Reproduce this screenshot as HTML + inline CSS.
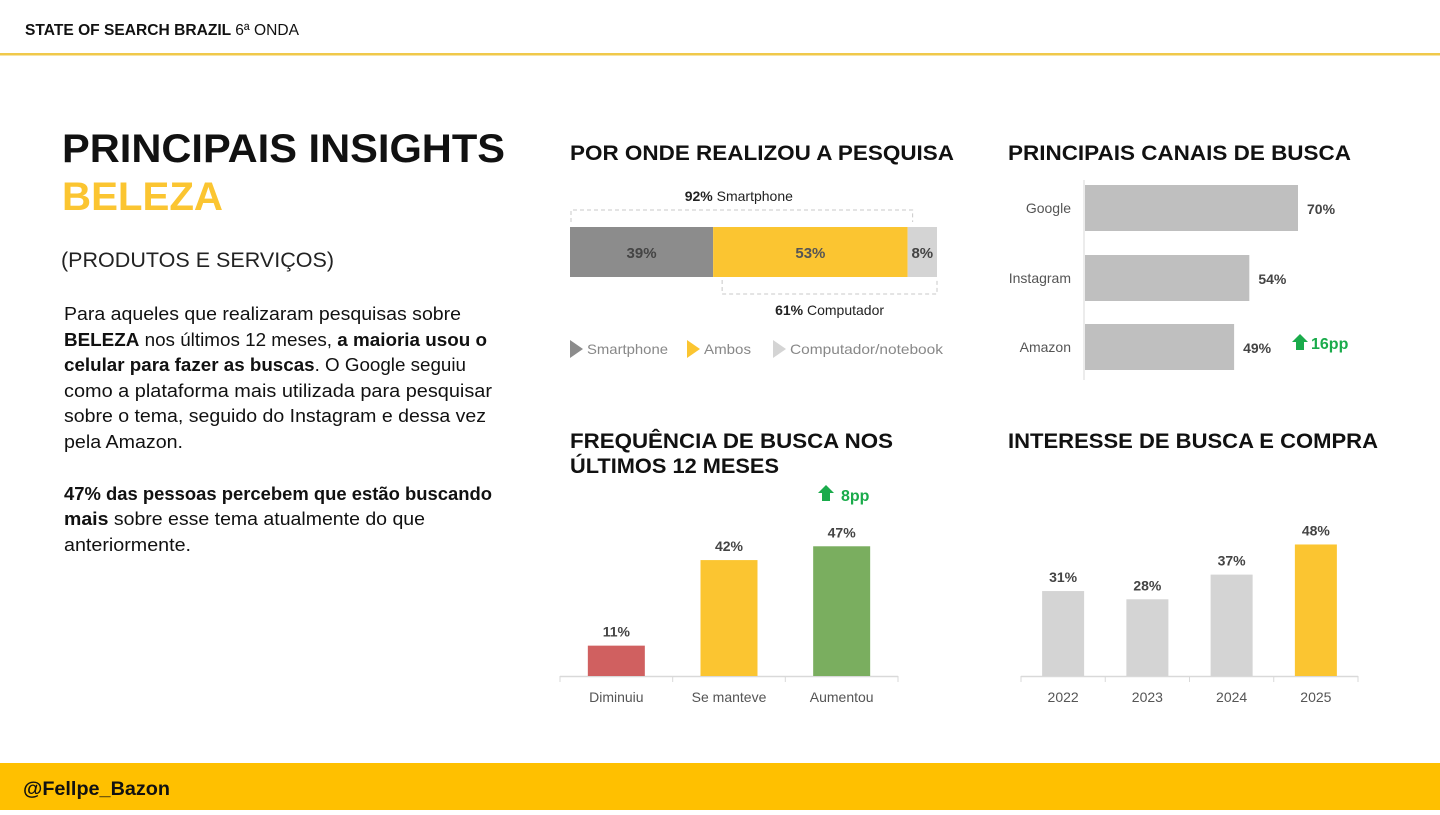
<!DOCTYPE html>
<html><head><meta charset="utf-8"><style>
html,body{margin:0;padding:0;background:#fff;}
body{width:1440px;height:810px;overflow:hidden;position:relative;font-family:"Liberation Sans",sans-serif;}
svg text{font-family:"Liberation Sans",sans-serif;}
</style></head><body>
<svg id="page" width="1440" height="810" viewBox="0 0 1440 810" xmlns="http://www.w3.org/2000/svg">
  <g>
    <text x="25" y="35" font-size="16" font-weight="bold" fill="#111" textLength="274" lengthAdjust="spacingAndGlyphs">STATE OF SEARCH BRAZIL <tspan font-weight="normal">6ª ONDA</tspan></text>
    <rect x="0" y="53" width="1440" height="2.5" fill="#f0c94a"/>
  </g>
  <g>
    <rect x="0" y="763" width="1440" height="47" fill="#ffc000"/>
    <text x="23" y="795" font-size="19" font-weight="bold" fill="#111" textLength="147" lengthAdjust="spacingAndGlyphs">@Fellpe_Bazon</text>
  </g>
  <g>
    <text x="62" y="162" font-size="40" font-weight="bold" fill="#111" textLength="443" lengthAdjust="spacingAndGlyphs">PRINCIPAIS INSIGHTS</text>
    <text x="62" y="210" font-size="40" font-weight="bold" fill="#fbc531" textLength="161" lengthAdjust="spacingAndGlyphs">BELEZA</text>
    <text x="61" y="267" font-size="21" fill="#222" textLength="273" lengthAdjust="spacingAndGlyphs">(PRODUTOS E SERVIÇOS)</text>
  </g>
  <g font-size="18" fill="#111">
    <text x="64" y="320" textLength="397" lengthAdjust="spacingAndGlyphs">Para aqueles que realizaram pesquisas sobre</text>
    <text x="64" y="346" textLength="423" lengthAdjust="spacingAndGlyphs"><tspan font-weight="bold">BELEZA</tspan> nos últimos 12 meses, <tspan font-weight="bold">a maioria usou o</tspan></text>
    <text x="64" y="371" textLength="402" lengthAdjust="spacingAndGlyphs"><tspan font-weight="bold">celular para fazer as buscas</tspan>. O Google seguiu</text>
    <text x="64" y="397" textLength="428" lengthAdjust="spacingAndGlyphs">como a plataforma mais utilizada para pesquisar</text>
    <text x="64" y="422" textLength="422" lengthAdjust="spacingAndGlyphs">sobre o tema, seguido do Instagram e dessa vez</text>
    <text x="64" y="448" textLength="119" lengthAdjust="spacingAndGlyphs">pela Amazon.</text>
    <text x="64" y="500" textLength="428" lengthAdjust="spacingAndGlyphs" font-weight="bold">47% das pessoas percebem que estão buscando</text>
    <text x="64" y="525" textLength="361" lengthAdjust="spacingAndGlyphs"><tspan font-weight="bold">mais</tspan> sobre esse tema atualmente do que</text>
    <text x="64" y="551" textLength="127" lengthAdjust="spacingAndGlyphs">anteriormente.</text>
  </g>
  <g font-size="21" font-weight="bold" fill="#111">
    <text x="570" y="160" textLength="384" lengthAdjust="spacingAndGlyphs">POR ONDE REALIZOU A PESQUISA</text>
    <text x="1008" y="160" textLength="343" lengthAdjust="spacingAndGlyphs">PRINCIPAIS CANAIS DE BUSCA</text>
    <text x="570" y="448" textLength="323" lengthAdjust="spacingAndGlyphs">FREQUÊNCIA DE BUSCA NOS</text>
    <text x="570" y="473" textLength="209" lengthAdjust="spacingAndGlyphs">ÚLTIMOS 12 MESES</text>
    <text x="1008" y="448" textLength="370" lengthAdjust="spacingAndGlyphs">INTERESSE DE BUSCA E COMPRA</text>
  </g>
  <g id="device-chart"></g>
  <g id="channel-chart"></g>
  <g id="freq-chart"></g>
  <g id="interest-chart"></g>
</svg>
<script>
// ---- data ----
const deviceCats = ["Smartphone", "Ambos", "Computador/notebook"];
const deviceVals = [39, 53, 8];
const deviceTotals = [92, 61];
const channelCats = ["Google", "Instagram", "Amazon"];
const channelVals = [70, 54, 49];
const channelDelta = "16pp";
const freqCats = ["Diminuiu", "Se manteve", "Aumentou"];
const freqVals = [11, 42, 47];
const freqDelta = "8pp";
const interestCats = ["2022", "2023", "2024", "2025"];
const interestVals = [31, 28, 37, 48];

const NS = "http://www.w3.org/2000/svg";
function mk(parent, tag, attrs, text) {
  const e = document.createElementNS(NS, tag);
  for (const k in attrs) e.setAttribute(k, attrs[k]);
  if (text !== undefined) e.textContent = text;
  parent.appendChild(e);
  return e;
}
function arrow(parent, x, y) {
  const p = mk(parent, "path", {d:`M${x} ${y-9} L${x+8} ${y-1} L${x+4} ${y-1} L${x+4} ${y+7} L${x-4} ${y+7} L${x-4} ${y-1} L${x-8} ${y-1} Z`, fill:"#1aab4b"});
  
  
}

// ---- stacked device bar ----
(function(){
  const g = document.getElementById("device-chart");
  const x0 = 570, scale = 367/100, y = 227, h = 50;
  const fills = ["#8c8c8c", "#fbc531", "#d4d4d4"];
  const lbl = ["#444", "#555", "#444"];
  let x = x0;
  const xs = [];
  deviceVals.forEach((v,i)=>{
    const w = v*scale;
    xs.push(x);
    const r = mk(g,"rect",{x:x,y:y,width:w,height:h,fill:fills[i]});
    
    
    const t = mk(g,"text",{x:x+w/2,y:y+31,"text-anchor":"middle","font-size":15,"font-weight":"bold",fill:lbl[i]}, v+"%");
    
    
    x += w;
  });
  const xEnd = x;
  const smartEnd = xs[2];
  const b1 = mk(g,"path",{d:`M${x0+1} ${y-5} L${x0+1} ${y-17} L${smartEnd+5} ${y-17} L${smartEnd+5} ${y-5}`,fill:"none",stroke:"#c8c8c8","stroke-dasharray":"4 3"});
  
  
  const b2 = mk(g,"path",{d:`M${xs[1]+9} ${y+h+3} L${xs[1]+9} ${y+h+17} L${xEnd} ${y+h+17} L${xEnd} ${y+h+3}`,fill:"none",stroke:"#c8c8c8","stroke-dasharray":"4 3"});
  
  
  const t1 = mk(g,"text",{x:(x0+smartEnd)/2,y:201,"text-anchor":"middle","font-size":14,fill:"#222"});
  t1.innerHTML = `<tspan font-weight="bold">${deviceTotals[0]}%</tspan> Smartphone`;
  
  
  const t2 = mk(g,"text",{x:(xs[1]+9+xEnd)/2,y:315,"text-anchor":"middle","font-size":14,fill:"#222"});
  t2.innerHTML = `<tspan font-weight="bold">${deviceTotals[1]}%</tspan> Computador`;
  
  
  const lx = [570, 687, 773];
  const lw = [81, 47, 153];
  deviceCats.forEach((c,i)=>{
    const m = mk(g,"path",{d:`M${lx[i]} 340 L${lx[i]+13} 349 L${lx[i]} 358 Z`,fill:fills[i]});
    
    
    const t = mk(g,"text",{x:lx[i]+17,y:354,"font-size":14,fill:"#888",textLength:lw[i],lengthAdjust:"spacingAndGlyphs"}, c);
    
    
  });
})();

// ---- horizontal channel bars ----
(function(){
  const g = document.getElementById("channel-chart");
  const x0 = 1084, scale = 213/70;
  const ys = [185, 255, 324], h = 46;
  const ax = mk(g,"line",{x1:x0,y1:180,x2:x0,y2:380,stroke:"#d9d9d9","stroke-width":1});
  
  
  channelCats.forEach((c,i)=>{
    const w = channelVals[i]*scale;
    const y = ys[i];
    const r = mk(g,"rect",{x:x0+1,y:y,width:w,height:h,fill:"#bfbfbf"});
    
    
    const t = mk(g,"text",{x:1071,y:y+h/2+5,"text-anchor":"end","font-size":14,fill:"#555"}, c);
    
    
    const v = mk(g,"text",{x:x0+w+10,y:y+h/2+6,"font-size":14,"font-weight":"bold",fill:"#444"}, channelVals[i]+"%");
    
    
  });
  arrow(g, 1300, 343);
  const d = mk(g,"text",{x:1311,y:349,"font-size":16,"font-weight":"bold",fill:"#1aab4b"}, channelDelta);
  
  
})();

function columns(g, cats, vals, opts){
  const base = 676, scale = opts.scale;
  const ax = mk(g,"line",{x1:opts.x0,y1:base+0.5,x2:opts.x1,y2:base+0.5,stroke:"#d9d9d9","stroke-width":1.5});
  
  
  const step = (opts.x1-opts.x0)/cats.length;
  for (let i=0;i<=cats.length;i++){
    const tk = mk(g,"line",{x1:opts.x0+i*step,y1:base,x2:opts.x0+i*step,y2:base+6,stroke:"#d9d9d9"});
    
    
  }
  cats.forEach((c,i)=>{
    const cx = opts.x0 + step*(i+0.5);
    const hgt = vals[i]*scale;
    const r = mk(g,"rect",{x:cx-opts.bw/2,y:base-hgt,width:opts.bw,height:hgt,fill:opts.fills[i]});
    
    
    const v = mk(g,"text",{x:cx,y:base-hgt-9,"text-anchor":"middle","font-size":14,"font-weight":"bold",fill:"#444"}, vals[i]+"%");
    
    
    const t = mk(g,"text",{x:cx,y:702,"text-anchor":"middle","font-size":14,fill:"#555"}, c);
    
    
  });
}
(function(){
  const g = document.getElementById("freq-chart");
  columns(g, freqCats, freqVals, {x0:560,x1:898,bw:57,scale:2.76,fills:["#d06060","#fbc531","#7aae5f"]});
  arrow(g, 826, 494);
  const d = mk(g,"text",{x:841,y:501,"font-size":16,"font-weight":"bold",fill:"#1aab4b"}, freqDelta);
  
  
})();
(function(){
  const g = document.getElementById("interest-chart");
  columns(g, interestCats, interestVals, {x0:1021,x1:1358,bw:42,scale:2.74,fills:["#d4d4d4","#d4d4d4","#d4d4d4","#fbc531"]});
})();
</script>
</body></html>
